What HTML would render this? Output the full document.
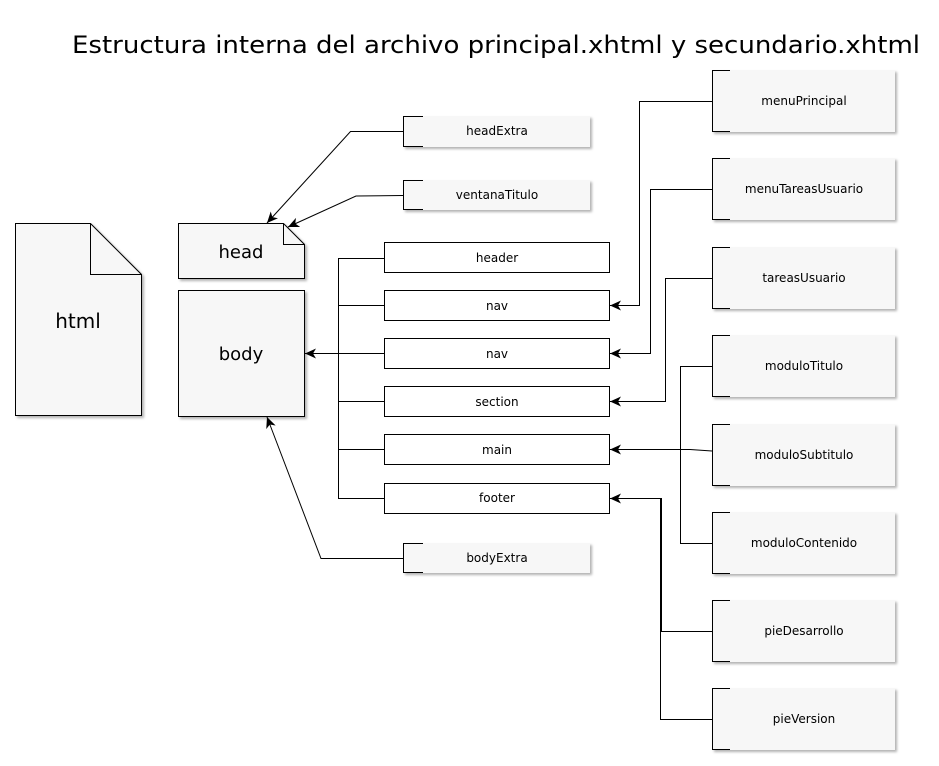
<!DOCTYPE html>
<html><head><meta charset="utf-8"><style>html,body{margin:0;padding:0;background:#fff}svg{display:block}</style></head>
<body>
<svg width="939" height="766" viewBox="0 0 939 766" xmlns="http://www.w3.org/2000/svg" font-family="DejaVu Sans, Liberation Sans, sans-serif">
<defs>
<marker id="a" markerWidth="12" markerHeight="10" refX="11" refY="5" orient="auto" markerUnits="userSpaceOnUse">
<path d="M0,0 L11,5 L0,10 L3,5 Z" fill="#000"/>
</marker>
<filter id="s" x="-10%" y="-10%" width="130%" height="130%"><feDropShadow dx="2" dy="2" stdDeviation="1.2" flood-color="#000" flood-opacity="0.3"/></filter>
</defs>
<rect width="939" height="766" fill="#fff"/>
<text x="496" y="53" font-size="24" text-anchor="middle" textLength="848" lengthAdjust="spacingAndGlyphs">Estructura interna del archivo principal.xhtml y secundario.xhtml</text>

<g filter="url(#s)"><path d="M15.5,223.5 H90.5 L141.5,274.5 V415.5 H15.5 Z" fill="#f7f7f7" stroke="#000"/></g>
<path d="M90.5,223.5 V274.5 H141.5" fill="none" stroke="#000"/>
<text x="78" y="328" font-size="20" text-anchor="middle">html</text>
<g filter="url(#s)"><path d="M178.5,223.5 H283.5 L304.5,244.5 V278.5 H178.5 Z" fill="#f7f7f7" stroke="#000"/></g>
<path d="M283.5,223.5 V244.5 H304.5" fill="none" stroke="#000"/>
<text x="241" y="258" font-size="18" text-anchor="middle">head</text>
<g filter="url(#s)"><rect x="178.5" y="290.5" width="126" height="126" fill="#f7f7f7" stroke="#000"/></g>
<text x="241" y="360" font-size="18" text-anchor="middle">body</text>

<g font-size="12" text-anchor="middle">
<g filter="url(#s)"><rect x="403" y="116" width="187" height="31" fill="#f7f7f7"/></g>
<path d="M423,116.5 H403.5 V146.5 H423" fill="none" stroke="#000"/><text x="497" y="135">headExtra</text>
<g filter="url(#s)"><rect x="403" y="180" width="187" height="30" fill="#f7f7f7"/></g>
<path d="M423,180.5 H403.5 V209.5 H423" fill="none" stroke="#000"/><text x="497" y="199">ventanaTitulo</text>
<g filter="url(#s)"><rect x="403" y="543" width="187" height="30" fill="#f7f7f7"/></g>
<path d="M423,543.5 H403.5 V572.5 H423" fill="none" stroke="#000"/><text x="497" y="562">bodyExtra</text>
</g>

<g font-size="12" text-anchor="middle">
<g filter="url(#s)">
<rect x="712" y="70" width="183" height="62" fill="#f7f7f7"/>
<rect x="712" y="158" width="183" height="62" fill="#f7f7f7"/>
<rect x="712" y="247" width="183" height="62" fill="#f7f7f7"/>
<rect x="712" y="335" width="183" height="62" fill="#f7f7f7"/>
<rect x="712" y="424" width="183" height="62" fill="#f7f7f7"/>
<rect x="712" y="512" width="183" height="62" fill="#f7f7f7"/>
<rect x="712" y="600" width="183" height="62" fill="#f7f7f7"/>
<rect x="712" y="688" width="183" height="62" fill="#f7f7f7"/>
</g>
<g fill="none" stroke="#000">
<path d="M730,70.5 H712.5 V131.5 H730"/>
<path d="M730,158.5 H712.5 V219.5 H730"/>
<path d="M730,247.5 H712.5 V308.5 H730"/>
<path d="M730,335.5 H712.5 V396.5 H730"/>
<path d="M730,424.5 H712.5 V485.5 H730"/>
<path d="M730,512.5 H712.5 V573.5 H730"/>
<path d="M730,600.5 H712.5 V661.5 H730"/>
<path d="M730,688.5 H712.5 V749.5 H730"/>
</g>
<text x="804" y="105">menuPrincipal</text>
<text x="804" y="193">menuTareasUsuario</text>
<text x="804" y="282">tareasUsuario</text>
<text x="804" y="370">moduloTitulo</text>
<text x="804" y="459">moduloSubtitulo</text>
<text x="804" y="547">moduloContenido</text>
<text x="804" y="635">pieDesarrollo</text>
<text x="804" y="723">pieVersion</text>
</g>

<g fill="#fff" stroke="#000">
<rect x="384.5" y="242.5" width="225" height="30"/>
<rect x="384.5" y="290.5" width="225" height="30"/>
<rect x="384.5" y="338.5" width="225" height="30"/>
<rect x="384.5" y="386.5" width="225" height="30"/>
<rect x="384.5" y="434.5" width="225" height="30"/>
<rect x="384.5" y="483.5" width="225" height="30"/>
</g>
<g font-size="12" text-anchor="middle">
<text x="497" y="262">header</text>
<text x="497" y="310">nav</text>
<text x="497" y="358">nav</text>
<text x="497" y="406">section</text>
<text x="497" y="454">main</text>
<text x="497" y="502">footer</text>
</g>

<g fill="none" stroke="#000" stroke-width="1">
<path d="M384,258.5 H338.5 V498.5 H384"/>
<path d="M338.5,305.5 H384 M338.5,401.5 H384 M338.5,449.5 H384"/>
<path d="M384,353.5 H305" marker-end="url(#a)"/>
<path d="M403,131.5 H350.5 L267,223" marker-end="url(#a)"/>
<path d="M403,195.5 L356,196 L288,227" marker-end="url(#a)"/>
<path d="M403,558.5 H321 L267,417" marker-end="url(#a)"/>
<path d="M712,101.5 H639.5 V305.5 H610" marker-end="url(#a)"/>
<path d="M712,189.5 H650.5 V353.5 H610" marker-end="url(#a)"/>
<path d="M712,278.5 H665.5 V401.5 H610" marker-end="url(#a)"/>
<path d="M712,366.5 H680.5 V543.5 H712"/>
<path d="M712,451 L690,449.5 H610" marker-end="url(#a)"/>
<path d="M712,631.5 H661.5 V498.5 H610" marker-end="url(#a)"/>
<path d="M712,719.5 H660.5 V498.5 H661"/>
</g>
</svg>
</body></html>
